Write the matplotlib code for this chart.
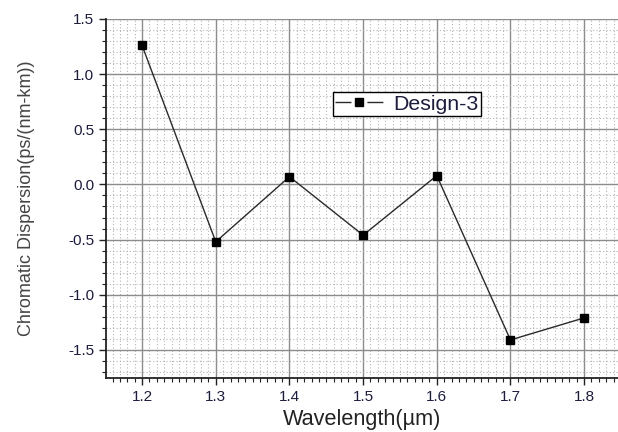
import matplotlib
matplotlib.use("Agg")
import matplotlib.pyplot as plt
from matplotlib.lines import Line2D
from matplotlib.ticker import MultipleLocator

plt.rcParams['font.family'] = ['Liberation Sans', 'DejaVu Sans']
plt.rcParams['axes.unicode_minus'] = False

wavelength = [1.2, 1.3, 1.4, 1.5, 1.6, 1.7, 1.8]
dispersion = [1.26, -0.52, 0.07, -0.46, 0.08, -1.41, -1.21]

fig = plt.figure(figsize=(6.18, 4.32), dpi=100)
ax = fig.add_axes([106 / 618, 1 - 378 / 432, 1 - 106 / 618, (378 - 19) / 432])

ax.plot(wavelength, dispersion, color='#2a2a2a', linewidth=1.0,
        marker='s', markersize=6, markerfacecolor='black',
        markeredgecolor='black')

ax.set_xlim(1.151, 1.846)
ax.set_ylim(-1.755, 1.5)
ax.xaxis.set_major_locator(MultipleLocator(0.1))
ax.xaxis.set_minor_locator(MultipleLocator(0.01))
ax.yaxis.set_major_locator(MultipleLocator(0.5))
ax.yaxis.set_minor_locator(MultipleLocator(0.1))

ax.grid(which='major', color='#8c8c8c', linewidth=1.0)
ax.grid(which='minor', color='#b4b4b4', linewidth=0.8, linestyle=(0, (1, 2)))
ax.set_axisbelow(True)

for side in ('top', 'right'):
    ax.spines[side].set_visible(False)
for side in ('left', 'bottom'):
    ax.spines[side].set_linewidth(1.3)
    ax.spines[side].set_color('#222222')

ax.tick_params(which='major', direction='out', length=5, width=1.0,
               labelsize=11, labelcolor='#1c1c3c', color='#222222')
ax.tick_params(which='minor', direction='out', length=3, width=0.8, color='#222222')

ax.set_xlabel('Wavelength(µm)', fontsize=15.6, color='#222222', labelpad=3.5)
ax.set_ylabel('Chromatic Dispersion(ps/(nm-km))', fontsize=13, color='#444444', labelpad=24)

# legend key: line broken on both sides of the marker
key = Line2D([], [], color='#2a2a2a', linewidth=1.0, linestyle=(0, (11.5, 11.5)),
             marker='s', markersize=5.5, markerfacecolor='black', markeredgecolor='black')
leg = ax.legend([key], ['Design-3'], loc='center left',
                bbox_to_anchor=((333 - 106) / 512, 1 - (104 - 19) / 359),
                fontsize=15.3, frameon=True, fancybox=False, edgecolor='black',
                framealpha=1, borderpad=0.1, handlelength=2.25, handletextpad=0.5,
                borderaxespad=0)
leg.get_frame().set_linewidth(1.0)
for t in leg.get_texts():
    t.set_color('#1c1c3c')

fig.savefig('out.png', dpi=100)
